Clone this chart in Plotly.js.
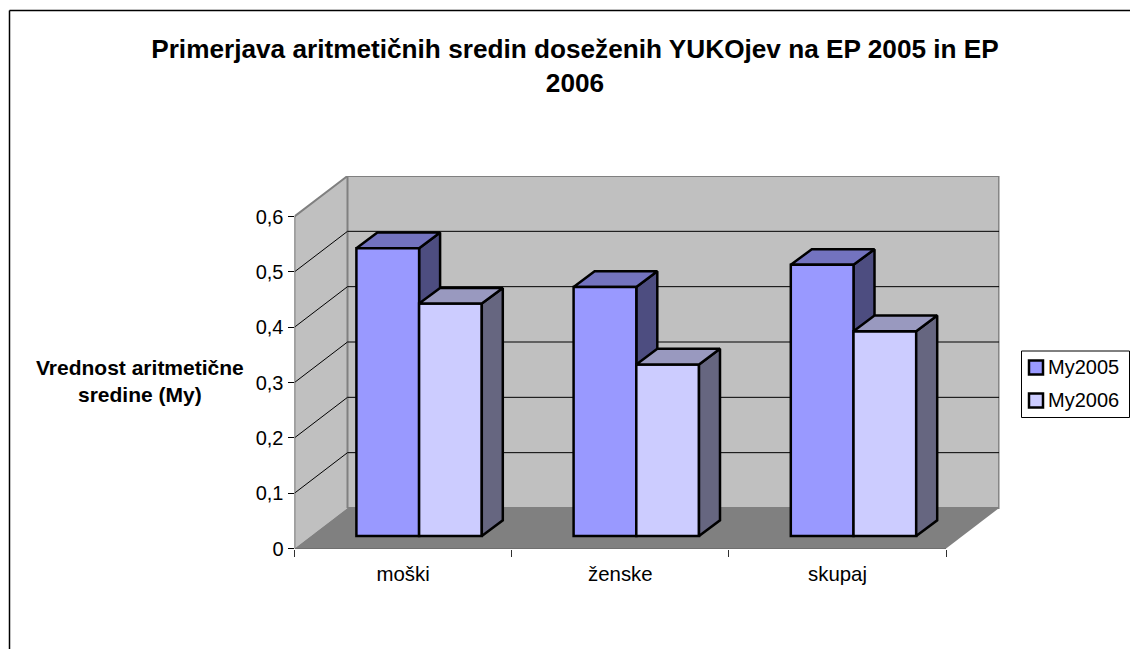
<!DOCTYPE html>
<html><head><meta charset="utf-8">
<script src="https://cdn.plot.ly/plotly-3.0.1.min.js"></script>
<style>html,body{margin:0;padding:0;background:#fff;overflow:hidden}</style>
</head><body><div id="chart" style="width:1130px;height:649px"></div>
<script>
const categories = ['moški', 'ženske', 'skupaj'];
const my2005 = [0.52, 0.45, 0.49];
const my2006 = [0.42, 0.31, 0.37];
const seriesNames = ['My2005', 'My2006'];
const valueTicks = [0, 0.1, 0.2, 0.3, 0.4, 0.5, 0.6];
const chartTitle = 'Primerjava aritmetičnih sredin doseženih YUKOjev na EP 2005 in EP<br>2006';
const valueTitle = 'Vrednost aritmetične<br>sredine (My)';

const W = 1130, H = 649, FONT = '"Liberation Sans", Arial, sans-serif';
// pixel geometry of the oblique projection
const X0 = 294.5, XU = 217.2, XR = 999.5;
const Y0 = 548.5, YU = 553.33, YT = 176;
const wallDX = 53 / XU, wallDY = 40.5 / YU;          // floor depth
const planeDX = 16 / XU, planeDY = 12.5 / YU;        // front plane of the bars
const barDX = 21 / XU, barDY = 15.7 / YU;            // depth of one bar
const barW = 62.7 / XU;
const EDGE = 2.5;
const xMax = (XR - X0) / XU, yMax = (Y0 - YT) / YU;
const centers = categories.map((_, i) => i + 0.5);
const px = v => v / W, py = v => 1 - v / H;

const domX = [px(X0), px(XR)], domY = [py(Y0), py(YT)];
const poly = (pts, fill, line, lw, xa, ya) => ({
  type: 'scatter', mode: 'lines', x: pts.map(p => p[0]), y: pts.map(p => p[1]),
  fill: 'toself', fillcolor: fill, line: {color: line, width: lw}, cliponaxis: false,
  hoverinfo: 'skip', showlegend: false, xaxis: xa, yaxis: ya
});
const path = (xs, ys, color, lw) => ({
  type: 'scatter', mode: 'lines', x: xs, y: ys, line: {color: color, width: lw},
  cliponaxis: false, hoverinfo: 'skip', showlegend: false, xaxis: 'x', yaxis: 'y'
});

const traces = [];
// walls and floor
const topV = valueTicks[valueTicks.length - 1];
const nCat = categories.length;
traces.push(poly([[0,0],[wallDX,wallDY],[wallDX,topV+wallDY],[0,topV],[0,0]], '#c0c0c0', '#c0c0c0', 0, 'x', 'y'));
traces.push(poly([[wallDX,wallDY],[nCat+wallDX,wallDY],[nCat+wallDX,topV+wallDY],[wallDX,topV+wallDY],[wallDX,wallDY]], '#c0c0c0', '#808080', 2, 'x', 'y'));
traces.push(poly([[0,0],[nCat,0],[nCat+wallDX,wallDY],[wallDX,wallDY],[0,0]], '#808080', '#808080', 0, 'x', 'y'));
// gridlines along the side and back walls
const gx = [], gy = [];
valueTicks.slice(1, -1).forEach(v => {
  gx.push(0, wallDX, nCat + wallDX, null);
  gy.push(v, v + wallDY, v + wallDY, null);
});
traces.push(path(gx, gy, '#000000', 1));
traces.push(path([0, wallDX, nCat + wallDX], [topV, topV + wallDY, topV + wallDY], '#808080', 2));
traces.push(path([0, 0], [0, topV], '#505050', 1.5));
traces.push(path([0, nCat], [0, 0], '#000000', 1));

// box faces
const faces = (vals, groupSide, topCol, sideCol, xa, ya) => {
  vals.forEach((v, i) => {
    const l = centers[i] + (groupSide < 0 ? -barW : 0), r = l + barW;
    traces.push(poly([[r,0],[r+barDX,barDY],[r+barDX,v+barDY],[r,v],[r,0]], sideCol, '#000', EDGE, xa, ya));
    traces.push(poly([[l,v],[r,v],[r+barDX,v+barDY],[l+barDX,v+barDY],[l,v]], topCol, '#000', EDGE, xa, ya));
  });
};
// first series behind the fronts of the bars
faces(my2005, -1, '#7373BF', '#4D4D80', 'x2', 'y2');
// fronts: real bars
traces.push({type:'bar', name:seriesNames[0], x:centers, y:my2005, xaxis:'x3', yaxis:'y3', cliponaxis:false,
  marker:{color:'#9999FF', line:{color:'#000', width:EDGE}}, hoverinfo:'y', showlegend:false});
traces.push({type:'bar', name:seriesNames[1], x:centers, y:my2006, xaxis:'x3', yaxis:'y3', cliponaxis:false,
  marker:{color:'#CCCCFF', line:{color:'#000', width:EDGE}}, hoverinfo:'y', showlegend:false});
faces(my2006, 1, '#9999BF', '#666680', 'x3', 'y3');

const hiddenX = (shift, over) => ({domain: domX, range: [-shift, xMax - shift], overlaying: 'x', anchor: over, visible: false, fixedrange: true});
const hiddenY = (shift, over) => ({domain: domY, range: [-shift, yMax - shift], overlaying: 'y', anchor: over, visible: false, fixedrange: true});

const seriesColors = ['#9999FF', '#CCCCFF'];
const legendRows = [367.5, 400.5];
const shapes = [
  {type:'line', xref:'paper', yref:'paper', x0:px(9.5), x1:1, y0:py(10.5), y1:py(10.5), line:{color:'#000', width:1.5}},
  {type:'line', xref:'paper', yref:'paper', x0:px(9.5), x1:px(9.5), y0:py(10.5), y1:0, line:{color:'#000', width:1.5}},
  {type:'rect', xref:'paper', yref:'paper', x0:px(1021.5), x1:px(1129.5), y0:py(351), y1:py(417.5), line:{color:'#000', width:1}, fillcolor:'#fff'}
];
const annotations = [
  {xref:'paper', yref:'paper', x:px(139.5), y:py(381), xanchor:'center', yanchor:'middle', showarrow:false, align:'center',
   text:'<b>' + valueTitle + '</b>', font:{family:FONT, size:21, color:'#000'}}
];
seriesNames.forEach((n, i) => {
  shapes.push({type:'rect', xref:'paper', yref:'paper', x0:px(1029), x1:px(1043), y0:py(legendRows[i]-7), y1:py(legendRows[i]+7),
    line:{color:'#000', width:2.5}, fillcolor:seriesColors[i]});
  annotations.push({xref:'paper', yref:'paper', x:px(1048), y:py(legendRows[i]-1), xanchor:'left', yanchor:'middle', showarrow:false,
    xshift:-2, text:n, font:{family:FONT, size:20, color:'#000'}});
});

const layout = {
  width: W, height: H, margin: {l:0, r:0, t:0, b:0}, paper_bgcolor:'#fff', plot_bgcolor:'rgba(0,0,0,0)',
  showlegend: false, separators: ',.', barmode:'group', bargap: 1 - 2 * barW, bargroupgap: 0,
  font: {family: FONT, size: 20, color:'#000'},
  title: {text: chartTitle, x: px(575), xanchor:'center', xref:'paper', y: py(58), yanchor:'top', yref:'paper',
          font:{family:FONT, size:26.2, color:'#000', weight:700}},
  xaxis: {domain: domX, range:[0, xMax], tickmode:'array', tickvals:centers, ticktext:categories,
          ticks:'outside', ticklen:7, tickcolor:'rgba(0,0,0,0)', showgrid:false, zeroline:false, showline:false, fixedrange:true,
          tickfont:{family:FONT, size:20.4, color:'#000'},
          minor:{tickmode:'array', tickvals:categories.map((_, i) => i).concat([nCat]), ticks:'outside', ticklen:7, tickwidth:1, tickcolor:'#303030', showgrid:false},
          anchor:'y'},
  yaxis: {domain: domY, range:[0, yMax], tickmode:'array', tickvals:valueTicks, ticktext:valueTicks.map(v => String(v).replace('.', ',')),
          ticks:'outside', ticklen:6, tickwidth:1, tickcolor:'#000', showgrid:false, zeroline:false, showline:false, fixedrange:true,
          tickfont:{family:FONT, size:20, color:'#000'}, anchor:'x'},
  xaxis2: hiddenX(planeDX, 'y2'), yaxis2: hiddenY(planeDY, 'x2'),
  xaxis3: hiddenX(planeDX, 'y3'), yaxis3: hiddenY(planeDY, 'x3'),
  shapes: shapes, annotations: annotations
};
Plotly.newPlot('chart', traces, layout, {displayModeBar:false, staticPlot:true});
</script></body></html>
